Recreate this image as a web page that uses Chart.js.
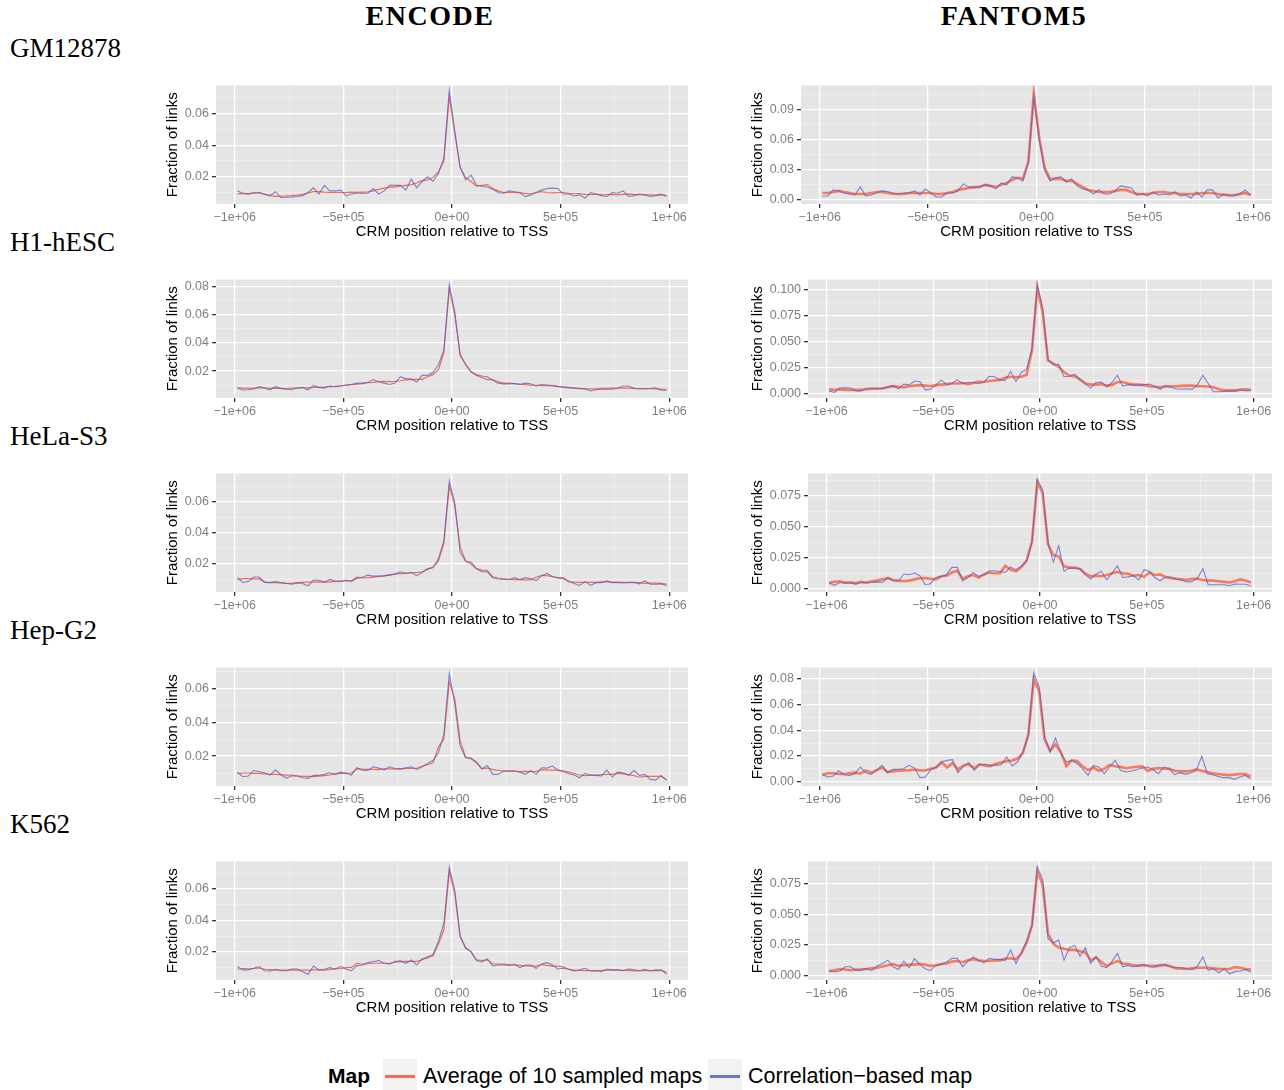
<!DOCTYPE html>
<html>
<head>
<meta charset="utf-8">
<script src="https://cdn.jsdelivr.net/npm/chart.js@4.4.1/dist/chart.umd.min.js"></script>
<style>
  body { margin: 0; background: #fff; width: 1284px; height: 1090px; position: relative; overflow: hidden;
         font-family: "Liberation Sans", Arial, sans-serif; }
  canvas { position: absolute; }
  .coltitle { position: absolute; top: 0; width: 300px; text-align: center; line-height: 33px; letter-spacing: 1.5px;
              font: bold 28px "Liberation Serif", serif; color: #000; }
  .rowlabel { position: absolute; left: 10px; line-height: 30px; font: 27px "Liberation Serif", serif; color: #000; }
  .lg { position: absolute; top: 1063px; line-height: 26px; font-size: 21.5px; color: #000; white-space: nowrap; }
  .key { position: absolute; top: 1059px; width: 34px; height: 34px; background: #F2F2F2; }
  .key div { position: absolute; left: 2px; right: 2px; top: 16px; height: 2.5px; }
</style>
</head>
<body>
<div class="coltitle" style="left:280px">ENCODE</div>
<div class="coltitle" style="left:864px">FANTOM5</div>
<div class="rowlabel" style="top:33px">GM12878</div>
<div class="rowlabel" style="top:227px">H1-hESC</div>
<div class="rowlabel" style="top:421px">HeLa-S3</div>
<div class="rowlabel" style="top:615px">Hep-G2</div>
<div class="rowlabel" style="top:809px">K562</div>

<div class="lg" style="left:328px;font-weight:bold;font-size:21px">Map</div>
<div class="key" style="left:383px"><div style="background:#FB6A4E"></div></div>
<div class="lg" style="left:423px">Average of 10 sampled maps</div>
<div class="key" style="left:708px"><div style="background:#6A74C8"></div></div>
<div class="lg" style="left:748px">Correlation−based map</div>

<script>
// bin centres (bp relative to TSS)
const positions = [
  -987500,-962500,-937500,-912500,-887500,-862500,-837500,-812500,-787500,-762500,
  -737500,-712500,-687500,-662500,-637500,-612500,-587500,-562500,-537500,-512500,
  -487500,-462500,-437500,-412500,-387500,-362500,-337500,-312500,-287500,-262500,
  -237500,-212500,-187500,-162500,-137500,-112500,-87500,-62500,-37500,-12500,
  12500,37500,62500,87500,112500,137500,162500,187500,212500,237500,
  262500,287500,312500,337500,362500,387500,412500,437500,462500,487500,
  512500,537500,562500,587500,612500,637500,662500,687500,712500,737500,
  762500,787500,812500,837500,862500,887500,912500,937500,962500,987500
];
const xTickValues = [-1000000, -500000, 0, 500000, 1000000];
const xTickLabels = ['−1e+06', '−5e+05', '0e+00', '5e+05', '1e+06'];
const xMinorValues = [-750000, -250000, 250000, 750000];

// ---- GM12878 ----
const gmEncodeAvg = [
  .0092,.0094,.0093,.0100,.0098,.0088,.0080,.0076,.0077,.0078,
  .0080,.0083,.0088,.0098,.0105,.0105,.0102,.0100,.0101,.0100,
  .0100,.0102,.0101,.0102,.0103,.0110,.0120,.0128,.0133,.0136,
  .0140,.0145,.0150,.0160,.0175,.0180,.0195,.0230,.0300,.0710,
  .0480,.0260,.0195,.0170,.0140,.0145,.0150,.0125,.0110,.0100,
  .0100,.0100,.0098,.0095,.0092,.0100,.0105,.0100,.0098,.0100,
  .0100,.0095,.0092,.0093,.0088,.0087,.0090,.0085,.0086,.0088,
  .0085,.0088,.0090,.0088,.0087,.0085,.0085,.0083,.0085,.0080];
const gmEncodeCorr = [
  .0110,.0095,.0090,.0095,.0100,.0090,.0080,.0105,.0068,.0070,
  .0072,.0075,.0080,.0100,.0130,.0090,.0145,.0110,.0110,.0115,
  .0078,.0090,.0095,.0095,.0095,.0125,.0090,.0110,.0145,.0145,
  .0145,.0115,.0185,.0130,.0170,.0200,.0170,.0220,.0320,.0750,
  .0490,.0260,.0180,.0210,.0148,.0140,.0135,.0120,.0100,.0095,
  .0110,.0105,.0100,.0074,.0085,.0100,.0115,.0125,.0128,.0125,
  .0090,.0090,.0078,.0085,.0065,.0100,.0090,.0080,.0075,.0100,
  .0095,.0110,.0075,.0080,.0090,.0085,.0075,.0080,.0090,.0075];
const gmFantomAvg = [
  .0070,.0070,.0080,.0090,.0080,.0070,.0060,.0060,.0060,.0070,
  .0080,.0080,.0070,.0060,.0060,.0060,.0070,.0070,.0070,.0070,
  .0070,.0060,.0060,.0070,.0080,.0100,.0110,.0120,.0130,.0130,
  .0150,.0140,.0130,.0150,.0170,.0200,.0220,.0210,.0380,.1060,
  .0620,.0320,.0210,.0210,.0210,.0190,.0190,.0160,.0130,.0100,
  .0090,.0080,.0080,.0080,.0090,.0100,.0100,.0080,.0060,.0060,
  .0060,.0070,.0080,.0080,.0070,.0070,.0060,.0060,.0060,.0060,
  .0070,.0070,.0070,.0060,.0050,.0050,.0050,.0060,.0070,.0050];
const gmFantomCorr = [
  .0040,.0040,.0100,.0090,.0070,.0060,.0050,.0130,.0040,.0050,
  .0070,.0090,.0085,.0070,.0060,.0070,.0070,.0090,.0050,.0110,
  .0070,.0030,.0030,.0070,.0070,.0090,.0160,.0130,.0120,.0130,
  .0150,.0140,.0110,.0170,.0150,.0230,.0220,.0190,.0380,.1030,
  .0600,.0300,.0190,.0220,.0230,.0180,.0210,.0140,.0110,.0100,
  .0060,.0100,.0060,.0060,.0090,.0140,.0130,.0120,.0050,.0060,
  .0040,.0080,.0050,.0060,.0050,.0080,.0040,.0050,.0020,.0080,
  .0030,.0100,.0100,.0020,.0060,.0040,.0040,.0060,.0100,.0050];

// ---- H1-hESC ----
const h1EncodeAvg = [
  .0082,.0080,.0078,.0080,.0082,.0082,.0078,.0080,.0078,.0076,
  .0080,.0082,.0082,.0082,.0085,.0087,.0088,.0090,.0092,.0095,
  .0102,.0105,.0108,.0112,.0118,.0120,.0125,.0128,.0125,.0128,
  .0132,.0138,.0140,.0142,.0142,.0160,.0175,.0210,.0330,.0780,
  .0600,.0320,.0245,.0195,.0170,.0155,.0140,.0140,.0125,.0115,
  .0115,.0112,.0108,.0105,.0100,.0100,.0098,.0098,.0095,.0090,
  .0085,.0082,.0080,.0078,.0075,.0075,.0075,.0078,.0078,.0080,
  .0080,.0082,.0080,.0078,.0076,.0077,.0076,.0075,.0073,.0070];
const h1EncodeCorr = [
  .0081,.0067,.0068,.0074,.0090,.0080,.0068,.0090,.0078,.0072,
  .0068,.0080,.0085,.0068,.0097,.0085,.0080,.0095,.0090,.0095,
  .0100,.0105,.0115,.0115,.0120,.0140,.0125,.0115,.0105,.0115,
  .0160,.0145,.0145,.0123,.0170,.0170,.0190,.0245,.0350,.0810,
  .0620,.0310,.0250,.0195,.0175,.0165,.0160,.0135,.0115,.0110,
  .0110,.0112,.0105,.0115,.0110,.0095,.0105,.0102,.0098,.0092,
  .0090,.0085,.0080,.0075,.0075,.0060,.0068,.0072,.0072,.0072,
  .0080,.0095,.0095,.0078,.0075,.0075,.0077,.0082,.0065,.0065];
const h1FantomAvg = [
  .0045,.0040,.0045,.0040,.0040,.0040,.0040,.0045,.0050,.0050,
  .0055,.0065,.0075,.0070,.0065,.0075,.0080,.0085,.0080,.0075,
  .0085,.0090,.0095,.0100,.0100,.0105,.0095,.0105,.0120,.0115,
  .0125,.0130,.0135,.0155,.0165,.0160,.0165,.0185,.0420,.1020,
  .0780,.0320,.0290,.0260,.0210,.0175,.0170,.0140,.0100,.0090,
  .0090,.0095,.0080,.0085,.0115,.0115,.0100,.0090,.0090,.0085,
  .0075,.0070,.0065,.0072,.0075,.0075,.0078,.0080,.0080,.0075,
  .0075,.0072,.0065,.0045,.0035,.0035,.0035,.0040,.0045,.0040];
const h1FantomCorr = [
  .0030,.0015,.0057,.0060,.0057,.0030,.0030,.0055,.0055,.0055,
  .0050,.0070,.0080,.0050,.0095,.0085,.0125,.0120,.0040,.0045,
  .0085,.0135,.0090,.0100,.0135,.0100,.0110,.0110,.0100,.0115,
  .0170,.0165,.0135,.0130,.0215,.0120,.0205,.0240,.0430,.1040,
  .0820,.0330,.0280,.0285,.0165,.0170,.0190,.0135,.0100,.0057,
  .0110,.0115,.0070,.0110,.0180,.0075,.0090,.0085,.0085,.0090,
  .0095,.0075,.0045,.0080,.0065,.0050,.0045,.0050,.0045,.0090,
  .0180,.0100,.0022,.0022,.0025,.0030,.0025,.0045,.0030,.0035];

// ---- HeLa-S3 ----
const helaEncodeAvg = [
  .0100,.0106,.0106,.0104,.0104,.0085,.0080,.0080,.0078,.0076,
  .0076,.0080,.0082,.0083,.0083,.0085,.0082,.0085,.0088,.0090,
  .0092,.0092,.0115,.0110,.0112,.0115,.0120,.0122,.0128,.0135,
  .0138,.0140,.0145,.0145,.0150,.0165,.0180,.0220,.0330,.0700,
  .0580,.0310,.0220,.0200,.0170,.0160,.0158,.0118,.0110,.0105,
  .0102,.0100,.0100,.0098,.0098,.0115,.0125,.0125,.0118,.0112,
  .0112,.0085,.0083,.0082,.0082,.0082,.0082,.0085,.0085,.0083,
  .0083,.0082,.0080,.0080,.0080,.0075,.0077,.0077,.0075,.0070];
const helaEncodeCorr = [
  .0112,.0081,.0087,.0116,.0116,.0081,.0080,.0087,.0080,.0075,
  .0070,.0078,.0075,.0060,.0097,.0095,.0085,.0101,.0090,.0088,
  .0095,.0090,.0107,.0115,.0128,.0122,.0122,.0125,.0130,.0135,
  .0150,.0140,.0145,.0125,.0145,.0170,.0175,.0233,.0349,.0732,
  .0594,.0275,.0217,.0213,.0170,.0150,.0150,.0112,.0103,.0100,
  .0100,.0112,.0100,.0112,.0105,.0093,.0125,.0139,.0120,.0110,
  .0105,.0090,.0075,.0062,.0087,.0062,.0080,.0080,.0091,.0080,
  .0080,.0078,.0082,.0082,.0072,.0091,.0070,.0070,.0072,.0062];
const helaFantomAvg = [
  .0045,.0055,.0060,.0050,.0050,.0045,.0055,.0050,.0060,.0065,
  .0075,.0085,.0070,.0065,.0060,.0065,.0075,.0085,.0085,.0080,
  .0075,.0100,.0105,.0130,.0145,.0080,.0100,.0110,.0090,.0115,
  .0130,.0125,.0125,.0185,.0155,.0140,.0175,.0230,.0380,.0860,
  .0770,.0360,.0270,.0260,.0180,.0170,.0170,.0160,.0120,.0100,
  .0105,.0100,.0110,.0125,.0135,.0125,.0120,.0105,.0110,.0095,
  .0130,.0110,.0115,.0095,.0085,.0080,.0075,.0070,.0080,.0080,
  .0070,.0065,.0065,.0060,.0055,.0050,.0060,.0075,.0065,.0050];
const helaFantomCorr = [
  .0046,.0027,.0050,.0045,.0047,.0037,.0050,.0047,.0050,.0055,
  .0050,.0090,.0064,.0060,.0118,.0113,.0126,.0105,.0032,.0040,
  .0090,.0099,.0113,.0172,.0172,.0064,.0090,.0131,.0099,.0113,
  .0145,.0145,.0139,.0131,.0174,.0153,.0180,.0220,.0375,.0884,
  .0796,.0367,.0214,.0348,.0139,.0166,.0166,.0160,.0113,.0078,
  .0118,.0139,.0072,.0126,.0185,.0090,.0095,.0105,.0070,.0153,
  .0139,.0090,.0064,.0094,.0094,.0078,.0070,.0054,.0059,.0086,
  .0160,.0032,.0032,.0032,.0032,.0024,.0037,.0035,.0035,.0021];

// ---- Hep-G2 ----
const hepEncodeAvg = [
  .0096,.0100,.0100,.0098,.0098,.0095,.0092,.0092,.0090,.0087,
  .0087,.0083,.0080,.0080,.0079,.0082,.0085,.0088,.0095,.0098,
  .0098,.0100,.0125,.0123,.0122,.0122,.0120,.0125,.0125,.0125,
  .0125,.0127,.0127,.0128,.0140,.0150,.0160,.0255,.0300,.0640,
  .0540,.0290,.0195,.0185,.0165,.0125,.0130,.0120,.0115,.0112,
  .0110,.0110,.0108,.0110,.0108,.0110,.0118,.0118,.0117,.0117,
  .0112,.0105,.0097,.0088,.0085,.0087,.0088,.0090,.0092,.0092,
  .0098,.0095,.0090,.0085,.0075,.0080,.0080,.0080,.0080,.0060];
const hepEncodeCorr = [
  .0105,.0078,.0082,.0115,.0109,.0101,.0088,.0119,.0090,.0070,
  .0082,.0082,.0072,.0068,.0086,.0086,.0092,.0101,.0092,.0105,
  .0098,.0088,.0131,.0117,.0115,.0137,.0129,.0119,.0137,.0127,
  .0123,.0131,.0137,.0121,.0137,.0157,.0174,.0220,.0328,.0689,
  .0515,.0259,.0190,.0188,.0160,.0125,.0145,.0092,.0092,.0111,
  .0113,.0113,.0105,.0092,.0115,.0092,.0131,.0129,.0141,.0117,
  .0109,.0096,.0088,.0072,.0098,.0086,.0086,.0082,.0117,.0076,
  .0105,.0101,.0086,.0115,.0086,.0092,.0062,.0058,.0086,.0058];
const hepFantomAvg = [
  .0054,.0065,.0065,.0060,.0060,.0065,.0070,.0062,.0088,.0070,
  .0090,.0110,.0075,.0080,.0085,.0088,.0090,.0095,.0088,.0088,
  .0100,.0110,.0150,.0110,.0145,.0095,.0125,.0135,.0105,.0135,
  .0125,.0120,.0140,.0150,.0160,.0165,.0180,.0225,.0370,.0800,
  .0700,.0330,.0240,.0290,.0230,.0120,.0165,.0160,.0120,.0090,
  .0110,.0085,.0100,.0130,.0120,.0115,.0105,.0110,.0115,.0120,
  .0085,.0100,.0105,.0100,.0100,.0085,.0080,.0080,.0085,.0095,
  .0085,.0075,.0065,.0060,.0055,.0050,.0055,.0060,.0060,.0040];
const hepFantomCorr = [
  .0054,.0036,.0044,.0085,.0054,.0049,.0062,.0114,.0070,.0057,
  .0088,.0127,.0070,.0096,.0096,.0101,.0127,.0106,.0031,.0036,
  .0093,.0114,.0153,.0166,.0171,.0070,.0119,.0148,.0088,.0132,
  .0135,.0127,.0127,.0132,.0192,.0122,.0153,.0231,.0360,.0847,
  .0736,.0347,.0231,.0339,.0218,.0153,.0166,.0140,.0101,.0049,
  .0127,.0114,.0062,.0114,.0166,.0088,.0075,.0083,.0093,.0106,
  .0114,.0093,.0062,.0114,.0101,.0054,.0070,.0057,.0070,.0088,
  .0199,.0062,.0054,.0041,.0031,.0031,.0018,.0036,.0049,.0023];

// ---- K562 ----
const k562EncodeAvg = [
  .0090,.0095,.0092,.0095,.0098,.0090,.0088,.0085,.0085,.0084,
  .0084,.0085,.0085,.0085,.0086,.0086,.0085,.0088,.0092,.0095,
  .0100,.0102,.0128,.0122,.0125,.0128,.0128,.0128,.0128,.0135,
  .0138,.0140,.0140,.0140,.0150,.0170,.0175,.0250,.0340,.0710,
  .0570,.0300,.0230,.0200,.0150,.0145,.0150,.0125,.0123,.0122,
  .0120,.0118,.0115,.0112,.0110,.0110,.0120,.0115,.0110,.0110,
  .0105,.0090,.0085,.0083,.0082,.0082,.0082,.0083,.0085,.0085,
  .0085,.0083,.0083,.0080,.0082,.0083,.0082,.0082,.0082,.0070];
const k562EncodeCorr = [
  .0107,.0086,.0086,.0096,.0107,.0081,.0079,.0090,.0081,.0081,
  .0092,.0092,.0075,.0058,.0111,.0086,.0090,.0100,.0092,.0107,
  .0090,.0081,.0113,.0117,.0132,.0139,.0145,.0128,.0122,.0139,
  .0143,.0128,.0149,.0117,.0156,.0160,.0185,.0266,.0382,.0737,
  .0593,.0297,.0223,.0202,.0145,.0136,.0156,.0111,.0117,.0117,
  .0115,.0122,.0100,.0117,.0117,.0096,.0124,.0132,.0117,.0092,
  .0096,.0090,.0079,.0086,.0096,.0079,.0081,.0075,.0090,.0086,
  .0086,.0081,.0092,.0086,.0079,.0090,.0079,.0086,.0086,.0060];
const k562FantomAvg = [
  .0038,.0045,.0055,.0050,.0045,.0050,.0052,.0055,.0060,.0065,
  .0075,.0085,.0095,.0080,.0085,.0090,.0090,.0095,.0090,.0080,
  .0085,.0095,.0100,.0115,.0120,.0110,.0125,.0135,.0125,.0120,
  .0120,.0125,.0125,.0140,.0140,.0135,.0180,.0270,.0410,.0850,
  .0740,.0340,.0260,.0230,.0220,.0210,.0210,.0200,.0190,.0125,
  .0150,.0110,.0080,.0100,.0120,.0100,.0095,.0085,.0080,.0085,
  .0080,.0080,.0080,.0090,.0075,.0060,.0060,.0055,.0060,.0065,
  .0065,.0065,.0060,.0055,.0055,.0055,.0070,.0065,.0055,.0050];
const k562FantomCorr = [
  .0038,.0030,.0038,.0073,.0073,.0043,.0043,.0057,.0043,.0079,
  .0100,.0127,.0073,.0051,.0119,.0065,.0138,.0092,.0057,.0043,
  .0084,.0092,.0111,.0141,.0141,.0073,.0119,.0152,.0125,.0106,
  .0141,.0133,.0133,.0125,.0209,.0098,.0187,.0282,.0404,.0886,
  .0783,.0301,.0268,.0290,.0127,.0228,.0247,.0160,.0228,.0100,
  .0154,.0079,.0065,.0119,.0182,.0073,.0084,.0073,.0084,.0092,
  .0073,.0070,.0092,.0084,.0073,.0065,.0065,.0057,.0051,.0079,
  .0152,.0043,.0057,.0024,.0057,.0016,.0033,.0038,.0051,.0030];

// y-axis settings per panel (range, labelled ticks, minor grid, label decimals)
const encTicks = [0.02, 0.04, 0.06], encMinor = [0.01, 0.03, 0.05, 0.07];
const panels = [
  { row: 0, col: 0, avg: gmEncodeAvg,   corr: gmEncodeCorr,   yMin: 0.0027,  yMax: 0.0779, major: encTicks, minor: encMinor, digits: 2 },
  { row: 0, col: 1, avg: gmFantomAvg,   corr: gmFantomCorr,   yMin: -0.004,  yMax: 0.1138, major: [0, 0.03, 0.06, 0.09], minor: [0.015, 0.045, 0.075, 0.105], digits: 2 },
  { row: 1, col: 0, avg: h1EncodeAvg,   corr: h1EncodeCorr,   yMin: 0.001,   yMax: 0.0847, major: [0.02, 0.04, 0.06, 0.08], minor: encMinor, digits: 2 },
  { row: 1, col: 1, avg: h1FantomAvg,   corr: h1FantomCorr,   yMin: -0.0038, yMax: 0.1095, major: [0, 0.025, 0.05, 0.075, 0.1], minor: [0.0125, 0.0375, 0.0625, 0.0875], digits: 3 },
  { row: 2, col: 0, avg: helaEncodeAvg, corr: helaEncodeCorr, yMin: 0.002,   yMax: 0.0781, major: encTicks, minor: encMinor, digits: 2 },
  { row: 2, col: 1, avg: helaFantomAvg, corr: helaFantomCorr, yMin: -0.0027, yMax: 0.093,  major: [0, 0.025, 0.05, 0.075], minor: [0.0125, 0.0375, 0.0625, 0.0875], digits: 3 },
  { row: 3, col: 0, avg: hepEncodeAvg,  corr: hepEncodeCorr,  yMin: 0.0023,  yMax: 0.0725, major: encTicks, minor: encMinor, digits: 2 },
  { row: 3, col: 1, avg: hepFantomAvg,  corr: hepFantomCorr,  yMin: -0.0034, yMax: 0.089,  major: [0, 0.02, 0.04, 0.06, 0.08], minor: [0.01, 0.03, 0.05, 0.07], digits: 2 },
  { row: 4, col: 0, avg: k562EncodeAvg, corr: k562EncodeCorr, yMin: 0.0022,  yMax: 0.0773, major: encTicks, minor: encMinor, digits: 2 },
  { row: 4, col: 1, avg: k562FantomAvg, corr: k562FantomCorr, yMin: -0.0035, yMax: 0.093,  major: [0, 0.025, 0.05, 0.075], minor: [0.0125, 0.0375, 0.0625, 0.0875], digits: 3 }
];

Chart.defaults.font.family = '"Liberation Sans", Arial, sans-serif';

// grey panel background like ggplot
const panelBg = {
  id: 'panelBg',
  beforeDraw(chart) {
    const { ctx, chartArea: a } = chart;
    ctx.save();
    ctx.fillStyle = '#E5E5E5';
    ctx.fillRect(a.left, a.top, a.right - a.left, a.bottom - a.top);
    ctx.restore();
  }
};

const near = (list, v) => list.some(t => Math.abs(t - v) < 1e-9);

function makeChart(cv, p, h) {
  cv.width = 535;
  cv.height = h;
  cv.style.width = '535px';
  cv.style.height = h + 'px';
  const yWidth = p.col === 1 && p.digits === 3 ? 63 : 56;
  const fantom = p.col === 1;
  const toXY = vals => vals.map((v, i) => ({ x: positions[i], y: v }));

  return new Chart(cv.getContext('2d'), {
    type: 'line',
    data: {
      datasets: [
        { label: 'Correlation−based map', data: toXY(p.corr), borderColor: 'rgba(85,95,200,0.75)',
          borderWidth: 1.1, pointRadius: 0, tension: 0 },
        { label: 'Average of 10 sampled maps', data: toXY(p.avg),
          borderColor: fantom ? 'rgba(255,95,60,0.8)' : 'rgba(255,90,60,0.9)',
          borderWidth: fantom ? 2.6 : 1.2, pointRadius: 0, tension: 0 }
      ]
    },
    options: {
      responsive: false,
      animation: false,
      devicePixelRatio: 1,
      layout: { padding: { top: 0, right: fantom ? 8 : 7, left: 0, bottom: 0 } },
      plugins: { legend: { display: false }, tooltip: { enabled: false } },
      scales: {
        x: {
          type: 'linear', min: -1086250, max: 1086250,
          afterBuildTicks: s => { s.ticks = xTickValues.concat(xMinorValues).sort((a, b) => a - b).map(v => ({ value: v })); },
          afterFit: s => { s.height = 36; },
          border: { display: false },
          grid: {
            color: c => near(xTickValues, c.tick.value) ? '#FFFFFF' : '#F4F4F4',
            lineWidth: c => near(xTickValues, c.tick.value) ? 1.3 : 0.6,
            tickLength: 4,
            tickColor: c => near(xTickValues, c.tick.value) ? '#333333' : 'rgba(0,0,0,0)'
          },
          ticks: {
            autoSkip: false, maxRotation: 0, padding: 2, color: '#7F7F7F', font: { size: 12.5 },
            callback: v => { const k = xTickValues.indexOf(v); return k >= 0 ? xTickLabels[k] : ''; }
          },
          title: { display: true, text: 'CRM position relative to TSS', color: '#000', font: { size: 15, lineHeight: '16px' }, padding: { top: 0, bottom: 0 } }
        },
        y: {
          type: 'linear', min: p.yMin, max: p.yMax,
          afterBuildTicks: s => { s.ticks = p.major.concat(p.minor).sort((a, b) => a - b).map(v => ({ value: v })); },
          afterFit: s => { s.width = yWidth; },
          border: { display: false },
          grid: {
            color: c => near(p.major, c.tick.value) ? '#FFFFFF' : '#F4F4F4',
            lineWidth: c => near(p.major, c.tick.value) ? 1.3 : 0.6,
            tickLength: 4,
            tickColor: c => near(p.major, c.tick.value) ? '#333333' : 'rgba(0,0,0,0)'
          },
          ticks: {
            autoSkip: false, padding: 3, color: '#7F7F7F', font: { size: 12.5 },
            callback: v => near(p.major, v) ? v.toFixed(p.digits) : ''
          },
          title: { display: true, text: 'Fraction of links', color: '#000', font: { size: 15, lineHeight: '16px' }, padding: { top: 5, bottom: 0 } }
        }
      }
    },
    plugins: [panelBg]
  });
}

panels.forEach(p => {
  const plotTop = 85 + 194 * p.row;
  const cv = document.createElement('canvas');
  cv.style.left = (p.col === 0 ? 160 : 745) + 'px';
  document.body.appendChild(cv);
  // first pass finds the space Chart.js keeps above the plot, second pass sizes the plot to 119px
  let chart = makeChart(cv, p, 160);
  const off = chart.chartArea.top;
  chart.destroy();
  chart = makeChart(cv, p, 119 + 36 + off);
  cv.style.top = (plotTop - chart.chartArea.top) + 'px';
});
</script>
</body>
</html>
